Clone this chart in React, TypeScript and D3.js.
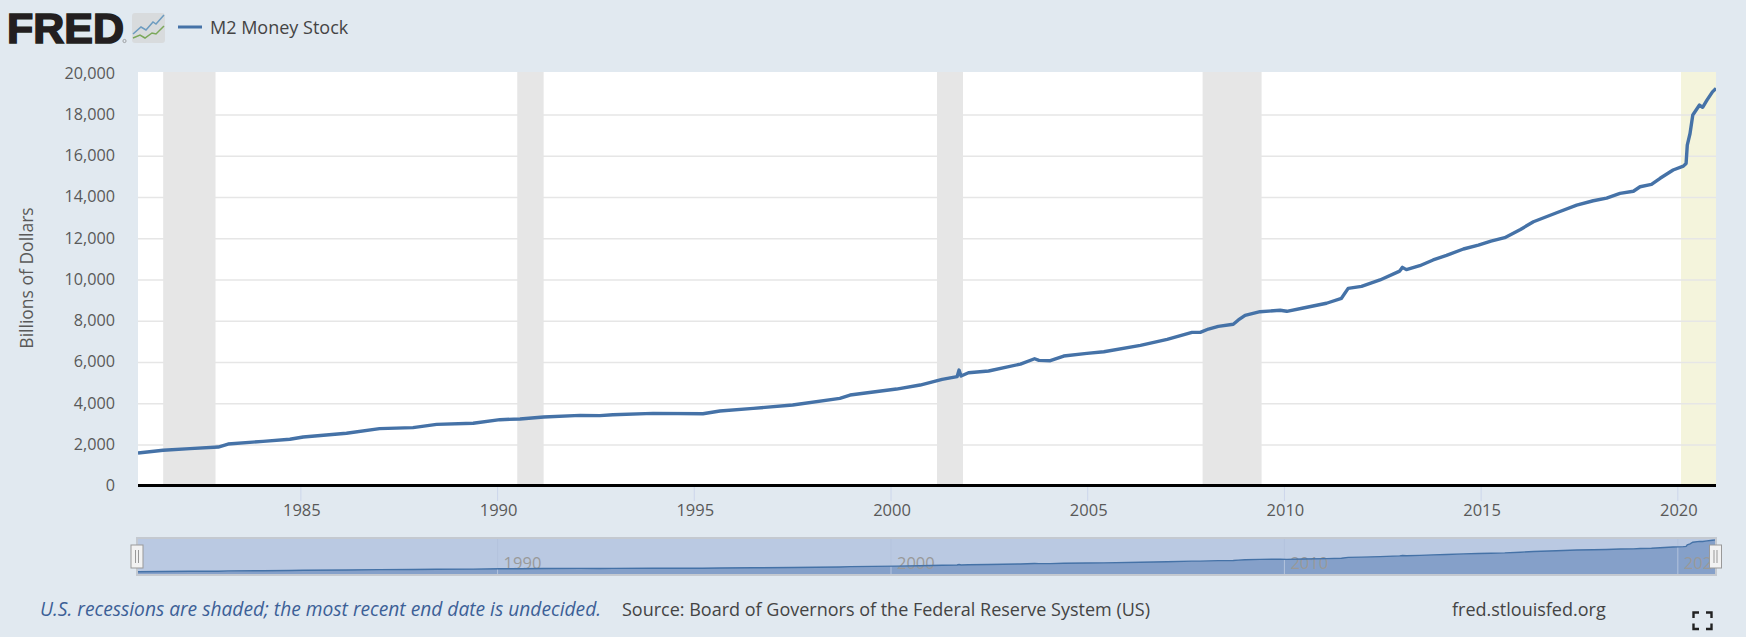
import React from "react";
import * as d3 from "d3";

const width = 1746;
const height = 637;

// M2 readings: decimal year and billions of dollars
const years = [
  1980.86, 1981.5, 1982.18, 1982.9, 1983.15, 1984.04, 1984.72, 1985.06, 1986.16, 1987.0, 1987.85, 1988.45, 1989.38,
  1990.06, 1990.57, 1991.17, 1992.1, 1992.6, 1992.93, 1993.95, 1995.22, 1995.65, 1996.5, 1997.5, 1998.7, 1998.96,
  2000.14, 2000.74, 2001.3, 2001.68, 2001.73, 2001.78, 2001.97, 2002.48, 2003.29, 2003.65, 2003.76, 2004.05, 2004.39, 2004.98,
  2005.41, 2006.34, 2007.02, 2007.65, 2007.86, 2008.07, 2008.32, 2008.7, 2008.83, 2009.0, 2009.38, 2009.89,
  2010.06, 2010.48, 2011.07, 2011.45, 2011.62, 2011.96, 2012.43, 2012.93, 2013.0, 2013.1, 2013.44, 2013.78,
  2014.12, 2014.55, 2014.93, 2015.25, 2015.6, 2016.0, 2016.33, 2016.92, 2017.43, 2017.85, 2018.19, 2018.53, 2018.87,
  2019.04, 2019.33, 2019.55, 2019.88, 2020.14, 2020.21, 2020.24, 2020.31, 2020.38, 2020.55, 2020.63, 2020.74, 2020.88, 2020.97,
];
const m2Values = [
  1610, 1740, 1820, 1900, 2045, 2175, 2275, 2385, 2565, 2790, 2840, 3000, 3050,
  3225, 3260, 3355, 3435, 3420, 3465, 3530, 3515, 3645, 3775, 3935, 4260, 4420,
  4710, 4905, 5180, 5310, 5630, 5340, 5500, 5585, 5920, 6180, 6100, 6085, 6310, 6440,
  6520, 6830, 7120, 7460, 7460, 7620, 7750, 7850, 8060, 8285, 8460, 8530,
  8480, 8640, 8870, 9110, 9590, 9690, 10000, 10430, 10610, 10500, 10690, 10970,
  11190, 11500, 11690, 11880, 12050, 12450, 12820, 13260, 13630, 13840, 13970, 14200, 14300,
  14520, 14630, 14930, 15330, 15520, 15650, 16540, 17100, 18000, 18480, 18370, 18720, 19120, 19290,
];

const yTicks = [0, 2000, 4000, 6000, 8000, 10000, 12000, 14000, 16000, 18000, 20000];
const xTickYears = [1985, 1990, 1995, 2000, 2005, 2010, 2015, 2020];
const navTickYears = [1990, 2000, 2010, 2020];
const recessionStarts = [1981.5, 1990.5, 2001.17, 2007.92];
const recessionEnds = [1982.83, 1991.17, 2001.83, 2009.42];
const currentRecession = [2020.08, 2020.97];

const font = "'Open Sans', sans-serif";
const blue = "#4572a7";

export default function App() {
  const x = d3.scaleLinear().domain([1980.86, 2020.97]).range([138, 1716]);
  const y = d3.scaleLinear().domain([0, 20000]).range([486.2, 73.7]);
  const yNav = d3.scaleLinear().domain([0, 20000]).range([574.6, 538.6]);
  const points = years.map((yr, i) => [yr, m2Values[i]] as [number, number]);
  const line = d3.line<[number, number]>().x((d) => x(d[0])).y((d) => y(d[1]));
  const navLine = d3.line<[number, number]>().x((d) => x(d[0])).y((d) => yNav(d[1]));
  const navArea = d3.area<[number, number]>().x((d) => x(d[0])).y0(574).y1((d) => yNav(d[1]));

  return (
    <svg width={width} height={height} style={{ position: "absolute", left: 0, top: 0, display: "block", background: "#e1e9f0" }}>
      <defs>
        <clipPath id="plot"><rect x={138} y={72} width={1578} height={416} /></clipPath>
        <clipPath id="nav"><rect x={137} y={538} width={1579} height={37} /></clipPath>
      </defs>

      {/* logo */}
      <text x={7} y={43} fontFamily="'Liberation Sans', sans-serif" fontWeight={700} fontSize={42} fill="#231f20" stroke="#231f20" strokeWidth={1.6} textLength={117} lengthAdjust="spacingAndGlyphs">FRED</text>
      <circle cx={124.5} cy={41} r={1.6} fill="none" stroke="#777" strokeWidth={0.6} />
      <rect x={132} y={13} width={33} height={30} rx={3} fill="#d8dbdd" />
      <path d="M133,34 L141,27 L146,30 L153,22 L156,24 L164,15" fill="none" stroke="#6d9cc0" strokeWidth={1.5} />
      <path d="M133,38 L140,35 L145,38 L152,33 L156,34 L164,26" fill="none" stroke="#7ba85a" strokeWidth={1.5} />

      {/* legend */}
      <line x1={178} x2={202} y1={27} y2={27} stroke={blue} strokeWidth={3} />
      <text x={210} y={34} fontFamily={font} fontSize={18} fontWeight={500} fill="#444">M2 Money Stock</text>

      {/* plot */}
      <rect x={138} y={72} width={1578} height={413} fill="#fff" />
      {yTicks.filter((t) => t > 0 && t < 20000).map((t) => (
        <line key={t} x1={138} x2={1716} y1={y(t)} y2={y(t)} stroke="#e6e6e6" strokeWidth={1.6} />
      ))}
      {recessionStarts.map((s, i) => (
        <rect key={s} x={x(s)} y={72} width={x(recessionEnds[i]) - x(s)} height={413} fill="#e6e6e6" />
      ))}
      <rect x={x(currentRecession[0])} y={72} width={x(currentRecession[1]) - x(currentRecession[0])} height={413} fill="#f4f4dc" />
      {yTicks.filter((t) => t > 0 && t < 20000).map((t) => (
        <line key={"o" + t} x1={x(currentRecession[0])} x2={1716} y1={y(t)} y2={y(t)} stroke="#e6e6e6" strokeWidth={1.6} />
      ))}
      <path d={line(points) ?? ""} fill="none" stroke={blue} strokeWidth={3.4} strokeLinejoin="round" clipPath="url(#plot)" />
      <line x1={138} x2={1716} y1={485.5} y2={485.5} stroke="#000" strokeWidth={3} />

      {/* y axis */}
      {yTicks.map((t) => (
        <text key={t} x={115} y={y(t) + 5} textAnchor="end" fontFamily={font} fontSize={16.2} fill="#595959">{d3.format(",")(t)}</text>
      ))}
      <text transform="translate(33,278) rotate(-90)" textAnchor="middle" fontFamily={font} fontSize={17.5} fill="#595959">Billions of Dollars</text>

      {/* x axis */}
      {xTickYears.map((t) => (
        <g key={t}>
          <line x1={x(t)} x2={x(t)} y1={487} y2={501} stroke="#ccd6eb" strokeWidth={1} />
          <text x={x(t) + 1} y={516} textAnchor="middle" fontFamily={font} fontSize={16.5} fill="#595959">{t}</text>
        </g>
      ))}

      {/* navigator */}
      <rect x={137} y={538} width={1579} height={37} fill="#bac9e2" />
      <path d={navArea(points) ?? ""} fill="#85a0c9" clipPath="url(#nav)" />
      {navTickYears.map((t) => (
        <g key={t} clipPath="url(#nav)">
          <line x1={x(t)} x2={x(t)} y1={538} y2={575} stroke="#b4c3dd" strokeWidth={1} />
          <text x={x(t) + 6} y={569} fontFamily={font} fontSize={16.5} fill="#999">{t}</text>
        </g>
      ))}
      <path d={navLine(points) ?? ""} fill="none" stroke={blue} strokeWidth={1.4} clipPath="url(#nav)" />
      <rect x={137} y={538} width={1579} height={37} fill="none" stroke="#c4c9d0" strokeWidth={2} />
      {[137, 1715.5].map((hx) => (
        <g key={hx}>
          <rect x={hx - 6} y={545} width={12} height={23} fill="#f2f2f2" stroke="#999" strokeWidth={1} />
          <line x1={hx - 1.5} x2={hx - 1.5} y1={550} y2={563} stroke="#999" strokeWidth={1} />
          <line x1={hx + 1.5} x2={hx + 1.5} y1={550} y2={563} stroke="#999" strokeWidth={1} />
        </g>
      ))}

      {/* footer */}
      <text x={40} y={616} fontFamily={font} fontStyle="italic" fontSize={19.2} fill="#3c6097">U.S. recessions are shaded; the most recent end date is undecided.</text>
      <text x={622} y={616} fontFamily={font} fontSize={18} fill="#444">Source: Board of Governors of the Federal Reserve System (US)</text>
      <text x={1452} y={616} fontFamily={font} fontSize={18} fill="#444">fred.stlouisfed.org</text>

      {/* fullscreen icon */}
      <path d="M1693.5,618 V612.5 H1699 M1706,612.5 H1711.5 V618 M1693.5,623.5 V629 H1699 M1711.5,623.5 V629 H1706" fill="none" stroke="#222" strokeWidth={2.4} />
    </svg>
  );
}
